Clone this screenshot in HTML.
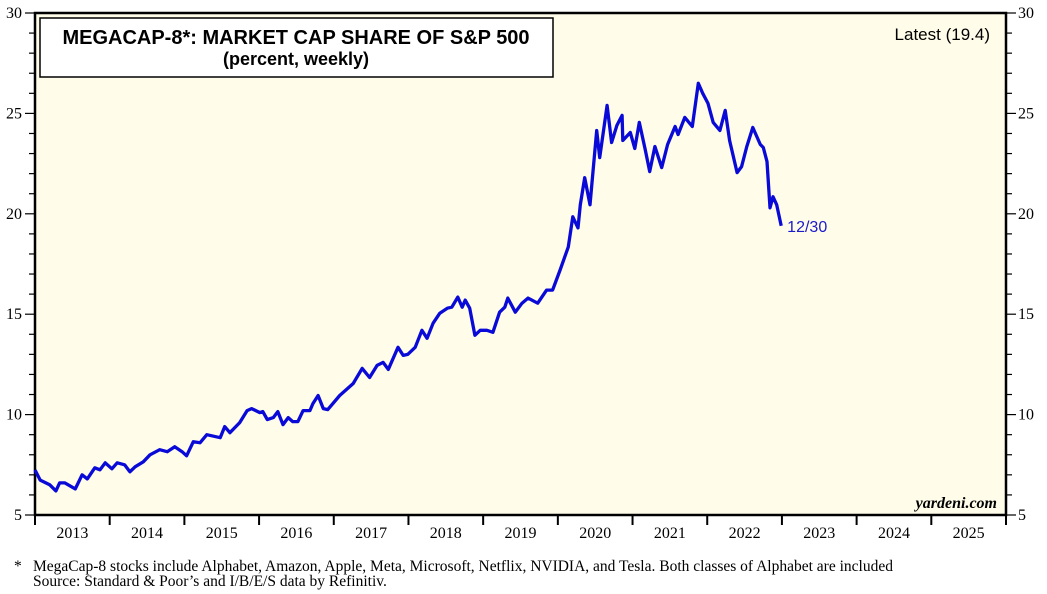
<!DOCTYPE html>
<html><head><meta charset="utf-8"><style>
body{margin:0;background:#fff;width:1047px;height:594px;overflow:hidden}
svg{display:block}
</style></head><body>
<svg id="chart" width="1047" height="594">
<rect x="35" y="13" width="971" height="502" fill="#fffde9" stroke="#000" stroke-width="2.5"/>
<g id="axes"></g>
<g>
<rect x="40" y="18" width="513" height="59" fill="#fff" stroke="#000" stroke-width="1.5"/>
<text x="296" y="44" text-anchor="middle" font-family="Liberation Sans, sans-serif" font-weight="bold" font-size="20">MEGACAP-8*: MARKET CAP SHARE OF S&amp;P 500</text>
<text x="296" y="65" text-anchor="middle" font-family="Liberation Sans, sans-serif" font-weight="bold" font-size="18">(percent, weekly)</text>
</g>
<text x="990" y="40" text-anchor="end" font-family="Liberation Sans, sans-serif" font-size="17">Latest (19.4)</text>
<text x="997" y="508" text-anchor="end" font-family="Liberation Serif, serif" font-style="italic" font-weight="bold" font-size="16">yardeni.com</text>
<path id="line" fill="none" stroke="#0a0ad8" stroke-width="3.3" stroke-linejoin="round"/>
<text id="endlabel" font-family="Liberation Sans, sans-serif" font-size="16" fill="#1a1acc">12/30</text>
<text x="14" y="571" font-family="Liberation Serif, serif" font-size="15.5">*</text>
<text x="33" y="571" font-family="Liberation Serif, serif" font-size="15.5">MegaCap-8 stocks include Alphabet, Amazon, Apple, Meta, Microsoft, Netflix, NVIDIA, and Tesla. Both classes of Alphabet are included</text>
<text x="33" y="586" font-family="Liberation Serif, serif" font-size="15.5">Source: Standard &amp; Poor’s and I/B/E/S data by Refinitiv.</text>
</svg>
<script>
const years=[2013,2014,2015,2016,2017,2018,2019,2020,2021,2022,2023,2024,2025];
const yTicks=[5,10,15,20,25,30];
const dates=[0,.07,.2,.28,.33,.4,.47,.54,.63,.7,.8,.87,.94,1.03,1.1,1.2,1.27,1.34,1.45,1.54,1.67,1.77,1.87,1.97,2.03,2.12,2.21,2.3,2.48,2.54,2.61,2.74,2.84,2.9,3.01,3.05,3.11,3.19,3.25,3.32,3.39,3.45,3.52,3.59,3.68,3.72,3.79,3.86,3.92,4.08,4.26,4.38,4.48,4.58,4.66,4.73,4.86,4.93,4.99,5.09,5.18,5.25,5.33,5.42,5.52,5.58,5.66,5.72,5.76,5.82,5.89,5.96,6.05,6.13,6.22,6.29,6.33,6.43,6.52,6.6,6.73,6.85,6.93,7.03,7.14,7.2,7.27,7.3,7.36,7.43,7.52,7.56,7.66,7.72,7.79,7.86,7.87,7.97,8.03,8.09,8.17,8.23,8.3,8.39,8.47,8.57,8.61,8.7,8.8,8.88,8.94,9.01,9.08,9.17,9.24,9.3,9.4,9.46,9.53,9.61,9.71,9.75,9.8,9.84,9.88,9.93,9.99];
const values=[7.24,6.74,6.5,6.2,6.6,6.6,6.45,6.3,7.0,6.8,7.35,7.25,7.6,7.3,7.6,7.5,7.15,7.4,7.65,8.0,8.25,8.15,8.4,8.15,7.95,8.65,8.6,9.0,8.85,9.4,9.1,9.6,10.2,10.3,10.1,10.15,9.75,9.85,10.15,9.5,9.85,9.65,9.65,10.2,10.2,10.55,10.95,10.3,10.25,10.95,11.55,12.3,11.85,12.45,12.6,12.25,13.35,12.95,13.0,13.35,14.2,13.8,14.55,15.05,15.3,15.35,15.85,15.35,15.7,15.3,13.95,14.2,14.2,14.1,15.1,15.35,15.8,15.1,15.55,15.8,15.55,16.2,16.2,17.2,18.35,19.85,19.3,20.45,21.8,20.45,24.15,22.8,25.4,23.55,24.4,24.9,23.65,24.05,23.25,24.55,23.2,22.1,23.35,22.3,23.45,24.35,23.95,24.8,24.35,26.5,26.0,25.5,24.55,24.15,25.15,23.65,22.05,22.35,23.35,24.3,23.45,23.3,22.6,20.3,20.85,20.45,19.4];
const X0=35,X1=1006,Y0=515,Y1=13;
const xs=t=>X0+(t/13)*(X1-X0);
const ys=v=>Y0-(v-5)/25*(Y0-Y1);
const NS='http://www.w3.org/2000/svg';
const ax=document.getElementById('axes');
function mk(tag,attrs){const e=document.createElementNS(NS,tag);for(const k in attrs)e.setAttribute(k,attrs[k]);ax.appendChild(e);return e;}
for(let v=5;v<=30;v++){
 const y=ys(v),big=v%5===0;
 const l=mk('line',{x1:X0-(big?10:6),x2:X0,y1:y,y2:y,stroke:'#000','stroke-width':1.2});
 
 
 const r=mk('line',{x1:X1,x2:X1+(big?10:6),y1:y,y2:y,stroke:'#000','stroke-width':1.2});
 
 
}
yTicks.forEach(v=>{
 const a=mk('text',{x:22,y:ys(v)+5,'text-anchor':'end','font-family':'Liberation Serif, serif','font-size':16});
 a.textContent=v;
 
 
 const b=mk('text',{x:1018,y:ys(v)+5,'font-family':'Liberation Serif, serif','font-size':16});
 b.textContent=v;
 
 
});
years.forEach((yr,i)=>{
 const t=mk('line',{x1:xs(i),x2:xs(i),y1:Y0,y2:Y0+10,stroke:'#000','stroke-width':2});
 
 
 const lb=mk('text',{x:xs(i+0.5),y:538,'text-anchor':'middle','font-family':'Liberation Serif, serif','font-size':16});
 lb.textContent=yr;
 
 
});
const t=mk('line',{x1:X1,x2:X1,y1:Y0,y2:Y0+10,stroke:'#000','stroke-width':2});


let d='';dates.forEach((dt,i)=>{d+=(i?'L':'M')+xs(dt).toFixed(1)+','+ys(values[i]).toFixed(1);});
document.getElementById('line').setAttribute('d',d);
const el=document.getElementById('endlabel');
const n=dates.length-1;
el.setAttribute('x',xs(dates[n])+6);el.setAttribute('y',ys(values[n])+6);
</script>
</body></html>
